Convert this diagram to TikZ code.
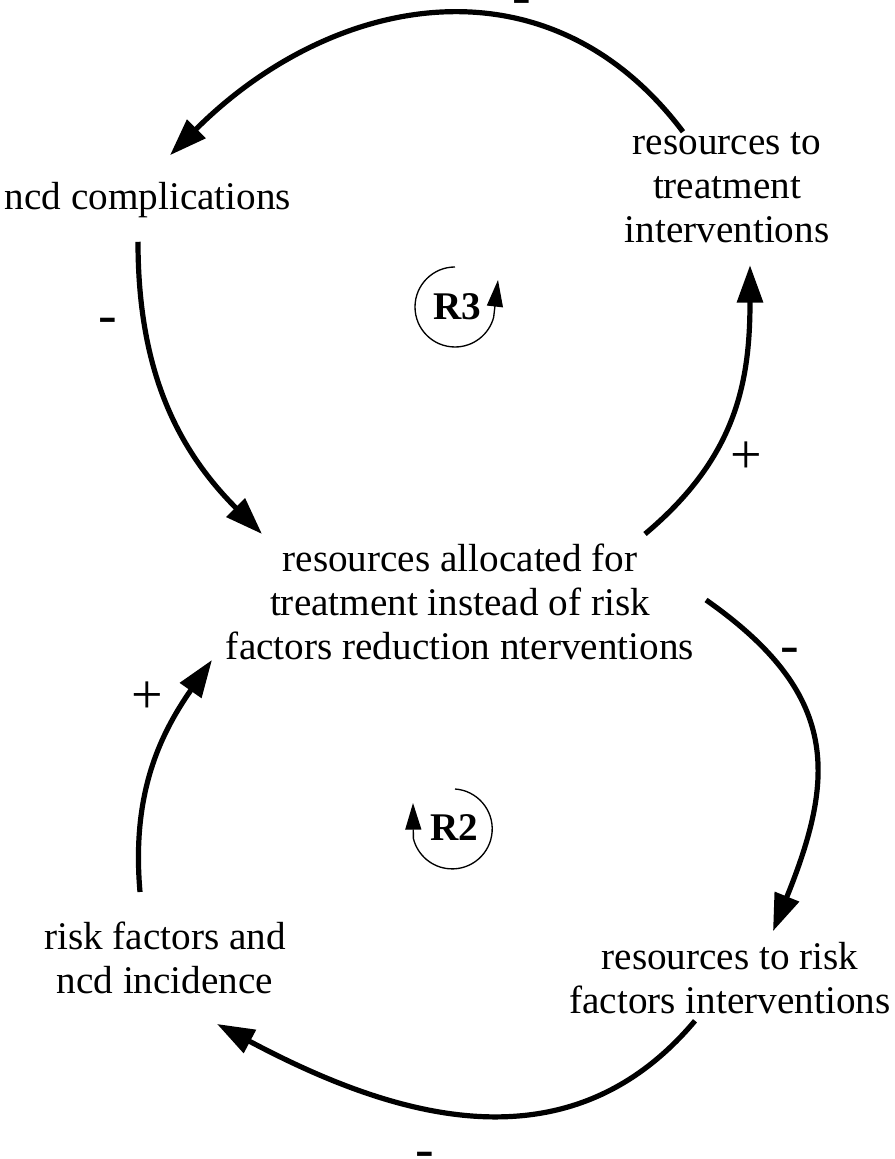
\documentclass[tikz,border=0pt]{standalone}
\usepackage{fontspec}
\setmainfont{Liberation Serif}
\usetikzlibrary{arrows.meta}
\begin{document}
\begin{tikzpicture}[x=0.75pt,y=0.75pt,
  txt/.style={font=\fontsize{29.4}{33}\selectfont, align=center, inner sep=0pt, outer sep=0pt},
  sgn/.style={font=\fontsize{42}{44}\selectfont, inner sep=0pt, anchor=base},
  conn/.style={line width=3.9pt, -{Triangle[length=28pt,width=19pt]}},
  loopc/.style={line width=1pt, -{Triangle[length=20pt,width=12pt]}},
  looptxt/.style={font=\fontsize{29.4}{33}\selectfont\bfseries, inner sep=0pt}]
\useasboundingbox (0,0) rectangle (894,1159);
% variables
\node[txt] (ncd) at (148,959) {ncd complications};
\node[txt] (rt) at (727,971) {resources to\\treatment\\interventions};
\node[txt] (ctr) at (460,557) {resources allocated for\\treatment instead of risk\\factors reduction nterventions};
\node[txt] (rf) at (165,201) {risk factors and\\ncd incidence};
\node[txt] (rr) at (730,181) {resources to risk\\factors interventions};
% connectors
\draw[conn] ([shift={(-44,1)}]rt.north) to[out=127,in=45,looseness=1.13] ([shift={(22,27)}]ncd.north);
\draw[conn] ([shift={(-10,-24)}]ncd.south) to[out=-90,in=135] ([shift={(-198,10)}]ctr.north);
\draw[conn] ([shift={(185,10)}]ctr.north) to[out=40,in=-90,looseness=1.05] ([shift={(23,-22)}]rt.south);
\draw[conn] ([shift={(12,2)}]ctr.east) to[out=-35,in=68,looseness=1.25] ([shift={(43,11)}]rr.north);
\draw[conn] ([shift={(-35,-7)}]rr.south) to[out=-130,in=-28,looseness=1.06] ([shift={(52,-30)}]rf.south);
\draw[conn] ([shift={(-25,30)}]rf.north) to[out=95,in=-125] ([shift={(-14,0)}]ctr.south west);
% polarity signs
\node[sgn] (s1) at (522,1144.5) {-};
\node[sgn] (s2) at (108,825.5) {-};
\node[sgn] (s3) at (746,685) {+};
\node[sgn] (s4) at (790,495.5) {-};
\node[sgn] (s5) at (147,445) {+};
\node[sgn] (s6) at (425,-8.5) {-};
% loop markers
\node[looptxt] (r3) at (457,852) {R3};
\draw[loopc] ([shift={(-2,40)}]r3.center) arc[start angle=90,end angle=345,radius=40] -- ([shift={(41,27)}]r3.center);
\node[looptxt] (r2) at (454,331) {R2};
\draw[loopc] ([shift={(1,39)}]r2.center) arc[start angle=86,end angle=-166,radius=40] -- ([shift={(-41,25)}]r2.center);
\end{tikzpicture}
\end{document}
